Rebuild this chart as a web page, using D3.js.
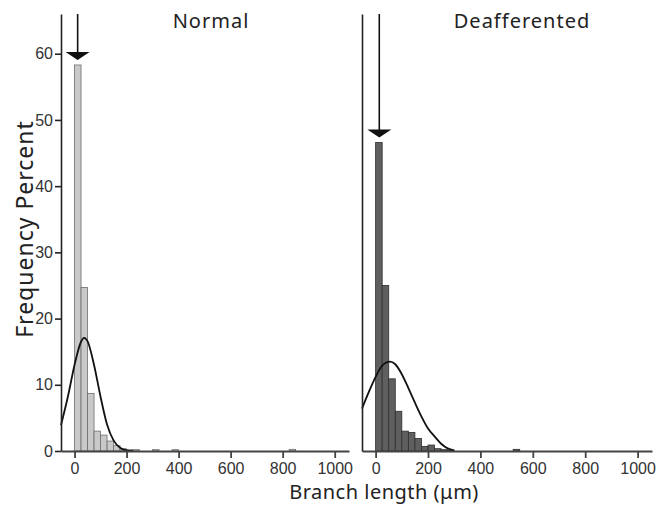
<!DOCTYPE html>
<html>
<head>
<meta charset="utf-8">
<script src="https://cdn.jsdelivr.net/npm/d3@7"></script>
<style>
  body { margin: 0; background: #fff; }
  .tick text { font-family: "Liberation Sans Narrow", "Liberation Sans", Arial, sans-serif; font-size: 16px; fill: #333; }
  .label { font-family: "Noto Sans", "Open Sans", sans-serif; fill: #222; }
</style>
</head>
<body>
<div class="vis"></div>
<script>
// frame
const FRAME_WIDTH = 669;
const FRAME_HEIGHT = 506;
const TOP = 14, BOTTOM = 451;
const PANELS = [{left: 61, right: 349}, {left: 362, right: 652}];

// data
const panelNames = ['Normal', 'Deafferented'];
const binWidth = 25;
const normalBins = [0, 25, 50, 75, 100, 125, 150, 175, 200, 225, 300, 375, 825];
const normalPct = [58.3, 24.7, 8.7, 3.0, 2.4, 1.5, 0.8, 0.35, 0.2, 0.2, 0.2, 0.2, 0.25];
const deafBins = [0, 25, 50, 75, 100, 125, 150, 175, 200, 225, 250, 275, 525];
const deafPct = [46.6, 25.0, 10.9, 6.0, 3.0, 2.8, 1.9, 0.7, 0.9, 0.35, 0.2, 0.1, 0.25];

// fitted curves, points
const normalCurveX = [-52, -25, 0, 25, 37, 50, 75, 100, 125, 150, 175, 200, 225];
const normalCurveY = [3.9, 8.3, 13.0, 16.5, 17.1, 16.6, 13.0, 8.2, 4.0, 1.6, 0.5, 0.1, 0];
const deafCurveX = [-52, -25, 0, 25, 55, 75, 100, 125, 150, 175, 200, 225, 250, 275, 300];
const deafCurveY = [6.4, 9.0, 11.2, 12.9, 13.5, 13.1, 11.6, 9.5, 7.3, 5.2, 3.4, 2.2, 1.1, 0.4, 0.1];

// arrow markers (median)
const arrowX = [12, 14];

const xTicks = [0, 200, 400, 600, 800, 1000];
const yTicks = [0, 10, 20, 30, 40, 50, 60];
const X_DOMAIN = [-52, 1055];
const Y_DOMAIN = [0, 66];

const panelData = [
  {bins: normalBins, pct: normalPct, cx: normalCurveX, cy: normalCurveY, fill: '#c9c9c9', stroke: '#6e6e6e'},
  {bins: deafBins, pct: deafPct, cx: deafCurveX, cy: deafCurveY, fill: '#5f5f5f', stroke: '#2e2e2e'}
];

const svg = d3.select('.vis')
  .append('svg')
    .attr('width', FRAME_WIDTH)
    .attr('height', FRAME_HEIGHT);

const yscale = d3.scaleLinear().domain(Y_DOMAIN).range([BOTTOM, TOP]);

panelData.forEach((p, i) => {
  const xscale = d3.scaleLinear().domain(X_DOMAIN).range([PANELS[i].left, PANELS[i].right]);

  // bars
  svg.append('g').selectAll('rect')
    .data(p.bins.map((b, j) => ({start: b, v: p.pct[j]})))
    .enter().append('rect')
      .attr('x', d => xscale(d.start))
      .attr('y', d => yscale(d.v))
      .attr('width', d => xscale(d.start + binWidth) - xscale(d.start))
      .attr('height', d => BOTTOM - yscale(d.v))
      .attr('fill', p.fill)
      .attr('stroke', p.stroke)
      .attr('stroke-width', 0.8);

  // curve
  const line = d3.line()
    .x(d => xscale(d[0]))
    .y(d => yscale(d[1]))
    .curve(d3.curveMonotoneX);
  svg.append('path')
    .datum(p.cx.map((x, j) => [x, p.cy[j]]))
    .attr('d', line)
    .attr('fill', 'none')
    .attr('stroke', '#111')
    .attr('stroke-width', 1.8);

  // x axis
  const xAxis = svg.append('g')
    .attr('transform', 'translate(0,' + BOTTOM + ')')
    .call(d3.axisBottom(xscale).tickValues(xTicks).tickFormat(d3.format('d'))
      .tickSize(7).tickSizeOuter(0).tickPadding(5));
  xAxis.select('.domain').attr('stroke', '#444').attr('stroke-width', 2);
  xAxis.selectAll('.tick line').attr('stroke', '#444').attr('stroke-width', 1.8);

  // y axis
  const yAxis = svg.append('g')
    .attr('transform', 'translate(' + PANELS[i].left + ',0)')
    .call(d3.axisLeft(yscale).tickValues(i == 0 ? yTicks : []).tickSize(6).tickSizeOuter(0).tickPadding(2));
  yAxis.select('.domain').attr('stroke', '#222').attr('stroke-width', 1.6);
  yAxis.selectAll('.tick line').attr('stroke', '#222').attr('stroke-width', 1.6);

  // arrow
  const ax = xscale(arrowX[i]);
  const tip = yscale(d3.max(p.pct)) - 5;
  svg.append('line')
    .attr('x1', ax).attr('x2', ax)
    .attr('y1', TOP).attr('y2', tip - 5)
    .attr('stroke', '#111').attr('stroke-width', 1.6);
  svg.append('path')
    .attr('d', 'M' + (ax - 12) + ',' + (tip - 8) + 'L' + (ax + 12) + ',' + (tip - 8) + 'L' + ax + ',' + tip + 'Z')
    .attr('fill', '#111');

  // panel title
  svg.append('text')
    .attr('class', 'label')
    .attr('x', i == 0 ? 211 : 522)
    .attr('y', 28)
    .attr('text-anchor', 'middle')
    .attr('font-size', '20px')
    .attr('letter-spacing', '1px')
    .text(panelNames[i]);
});

// axis labels
svg.append('text')
  .attr('class', 'label')
  .attr('transform', 'translate(33,229) rotate(-90)')
  .attr('text-anchor', 'middle')
  .attr('font-size', '23px')
  .attr('letter-spacing', '1px')
  .text('Frequency Percent');

svg.append('text')
  .attr('class', 'label')
  .attr('x', 384)
  .attr('y', 499)
  .attr('text-anchor', 'middle')
  .attr('font-size', '20px')
  .attr('letter-spacing', '0.5px')
  .text('Branch length (μm)');
</script>
</body>
</html>
